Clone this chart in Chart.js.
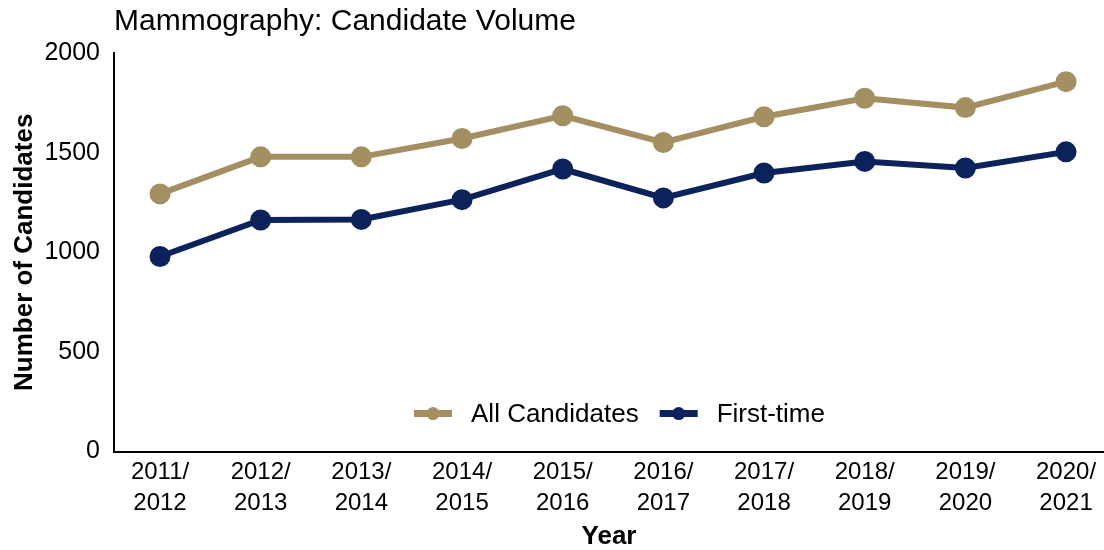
<!DOCTYPE html>
<html lang="en">
<head>
  <meta charset="UTF-8">
  <title>Mammography: Candidate Volume</title>
  <script src="https://cdn.jsdelivr.net/npm/chart.js"></script>
</head>
<style>
  html, body { margin: 0; padding: 0; background: #fff; }
  .wrap { width: 1104px; height: 550px; }
</style>
<body>
<div class="wrap">
  <canvas id="volChart" width="1104" height="550"></canvas>
</div>

<script>
  const years = ['2011/2012', '2012/2013', '2013/2014', '2014/2015', '2015/2016',
                 '2016/2017', '2017/2018', '2018/2019', '2019/2020', '2020/2021'];
  const allCandidates = [1293, 1479, 1479, 1571, 1685, 1551, 1680, 1773, 1726, 1856];
  const firstTime = [979, 1162, 1165, 1264, 1418, 1273, 1398, 1456, 1423, 1504];
  const yTicks = [0, 500, 1000, 1500, 2000];

  const gold = '#A38F62';
  const navy = '#0B225B';
  const font = 'Liberation Sans, Arial, sans-serif';

  // legend sits inside the plot, near the bottom
  const innerLegend = {
    id: 'innerLegend',
    afterDraw(chart) {
      const ctx = chart.ctx;
      const area = chart.chartArea;
      const y = area.bottom - 38;
      ctx.save();
      ctx.font = '26px ' + font;
      const items = chart.data.datasets.map(ds => ({
        label: ds.label, color: ds.borderColor, w: ctx.measureText(ds.label).width
      }));
      let x = 414 + (area.left - 114);
      items.forEach(it => {
        ctx.strokeStyle = it.color;
        ctx.lineWidth = 7;
        ctx.beginPath();
        ctx.moveTo(x, y);
        ctx.lineTo(x + 38, y);
        ctx.stroke();
        ctx.fillStyle = it.color;
        ctx.beginPath();
        ctx.arc(x + 19, y, 6.5, 0, Math.PI * 2);
        ctx.fill();
        ctx.fillStyle = '#000';
        ctx.textBaseline = 'middle';
        ctx.fillText(it.label, x + 57, y + 1);
        x += 38 + 19 + it.w + 21;
      });
      ctx.restore();
    }
  };

  const ctx = document.getElementById('volChart').getContext('2d');
  new Chart(ctx, {
    type: 'line',
    data: {
      datasets: [{
        label: 'All Candidates',
        data: allCandidates.map((v, i) => ({ x: i, y: v })),
        borderColor: gold,
        backgroundColor: gold,
        borderWidth: 6,
        pointRadius: 7.5,
        pointHoverRadius: 7.5,
        tension: 0,
        clip: false
      }, {
        label: 'First-time',
        data: firstTime.map((v, i) => ({ x: i, y: v })),
        borderColor: navy,
        backgroundColor: navy,
        borderWidth: 6,
        pointRadius: 7.5,
        pointHoverRadius: 7.5,
        tension: 0,
        clip: false
      }]
    },
    options: {
      responsive: false,
      animation: false,
      layout: { autoPadding: false, padding: { left: 20, right: 0, top: 2, bottom: 0 } },
      plugins: {
        legend: { display: false },
        tooltip: { enabled: false },
        title: {
          display: true,
          text: 'Mammography: Candidate Volume',
          align: 'start',
          fullSize: false,
          color: '#000',
          font: { family: font, size: 30, weight: 'normal' },
          padding: { top: 2, bottom: 13 }
        }
      },
      scales: {
        x: {
          type: 'linear',
          min: -0.457,
          max: 9.377,
          grid: { display: false, drawTicks: false },
          border: { display: true, color: '#000', width: 2 },
          afterBuildTicks: axis => { axis.ticks = years.map((_, i) => ({ value: i })); },
          afterFit: axis => { axis.paddingRight = 0; axis.paddingLeft = 0; },
          ticks: {
            autoSkip: false,
            maxRotation: 0,
            color: '#000',
            padding: 5,
            font: { family: font, size: 24, lineHeight: 1.3 },
            callback: v => {
              const parts = years[v].split('/');
              return [parts[0] + '/', parts[1]];
            }
          },
          title: {
            display: true,
            text: 'Year',
            color: '#000',
            font: { family: font, size: 26, weight: 'bold', lineHeight: 1.0 },
            padding: { top: 0, bottom: 0 }
          }
        },
        y: {
          min: 0,
          max: 2000,
          grid: { display: false, drawTicks: false },
          border: { display: true, color: '#000', width: 2 },
          afterBuildTicks: axis => { axis.ticks = yTicks.map(v => ({ value: v })); },
          ticks: {
            color: '#000',
            padding: 14,
            font: { family: font, size: 25 },
            callback: v => String(v)
          },
          title: {
            display: true,
            text: 'Number of Candidates',
            color: '#000',
            font: { family: font, size: 26, weight: 'bold', lineHeight: 0.4 },
            padding: { top: 0, bottom: 0 }
          }
        }
      }
    },
    plugins: [innerLegend]
  });
</script>
</body>
</html>
